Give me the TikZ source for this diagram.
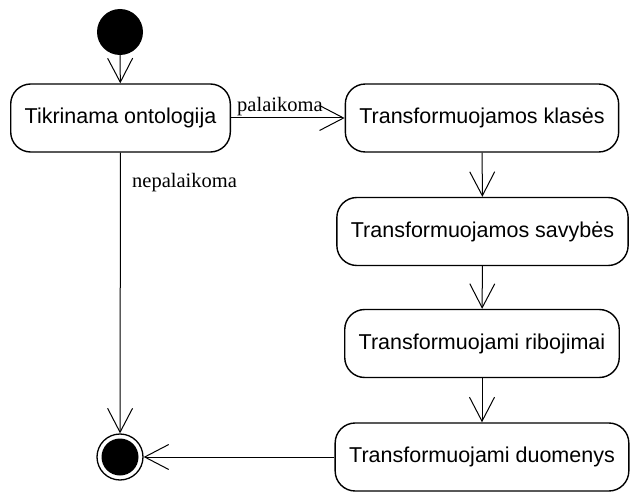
\documentclass[tikz,border=0pt]{standalone}
\usepackage{fontspec}
\setmainfont{Liberation Serif}
\setsansfont{Liberation Sans}
\usetikzlibrary{arrows.meta}
\tikzset{
  activity/.style={draw=black,line width=1.4pt,rounded corners=20pt,fill=white,
    inner xsep=14pt,minimum height=68pt,font=\sffamily\fontsize{21.5}{25}\selectfont},
  flow/.style={draw=black,line width=1pt,-{Straight Barb[length=24pt,width=25pt]}},
  guard/.style={font=\fontsize{20.5}{24}\selectfont,inner sep=0pt,anchor=base west}
}
\begin{document}
\begin{tikzpicture}[x=1pt,y=-1pt]
\useasboundingbox (0,0) rectangle (630,495);
\node[circle,fill=black,minimum size=46pt,inner sep=0pt](start) at (120,32) {};
\node[activity](check) at (120.5,118) {Tikrinama ontologija};
\node[activity](classes) at (482,118) {Transformuojamos klasės};
\node[activity](props) at (482.5,231.5) {Transformuojamos savybės};
\node[activity](restr) at (482,343.5) {Transformuojami ribojimai};
\node[activity](data) at (482,457) {Transformuojami duomenys};
\node[circle,draw=black,line width=1.3pt,fill=white,minimum size=46pt,inner sep=0pt,
  path picture={\fill[black] (path picture bounding box.center) circle (18.5pt);}](stop) at (120,457) {};
\draw[flow](start) -- (check);
\draw[flow](check) -- (classes);
\draw[flow](classes) -- (props);
\draw[flow](props) -- (restr);
\draw[flow](restr) -- (data);
\draw[flow](data) -- (stop);
\draw[flow](check) -- (stop);
\node[guard](yes) at (237,111) {palaikoma};
\node[guard](no) at (132,187) {nepalaikoma};
\end{tikzpicture}
\end{document}
